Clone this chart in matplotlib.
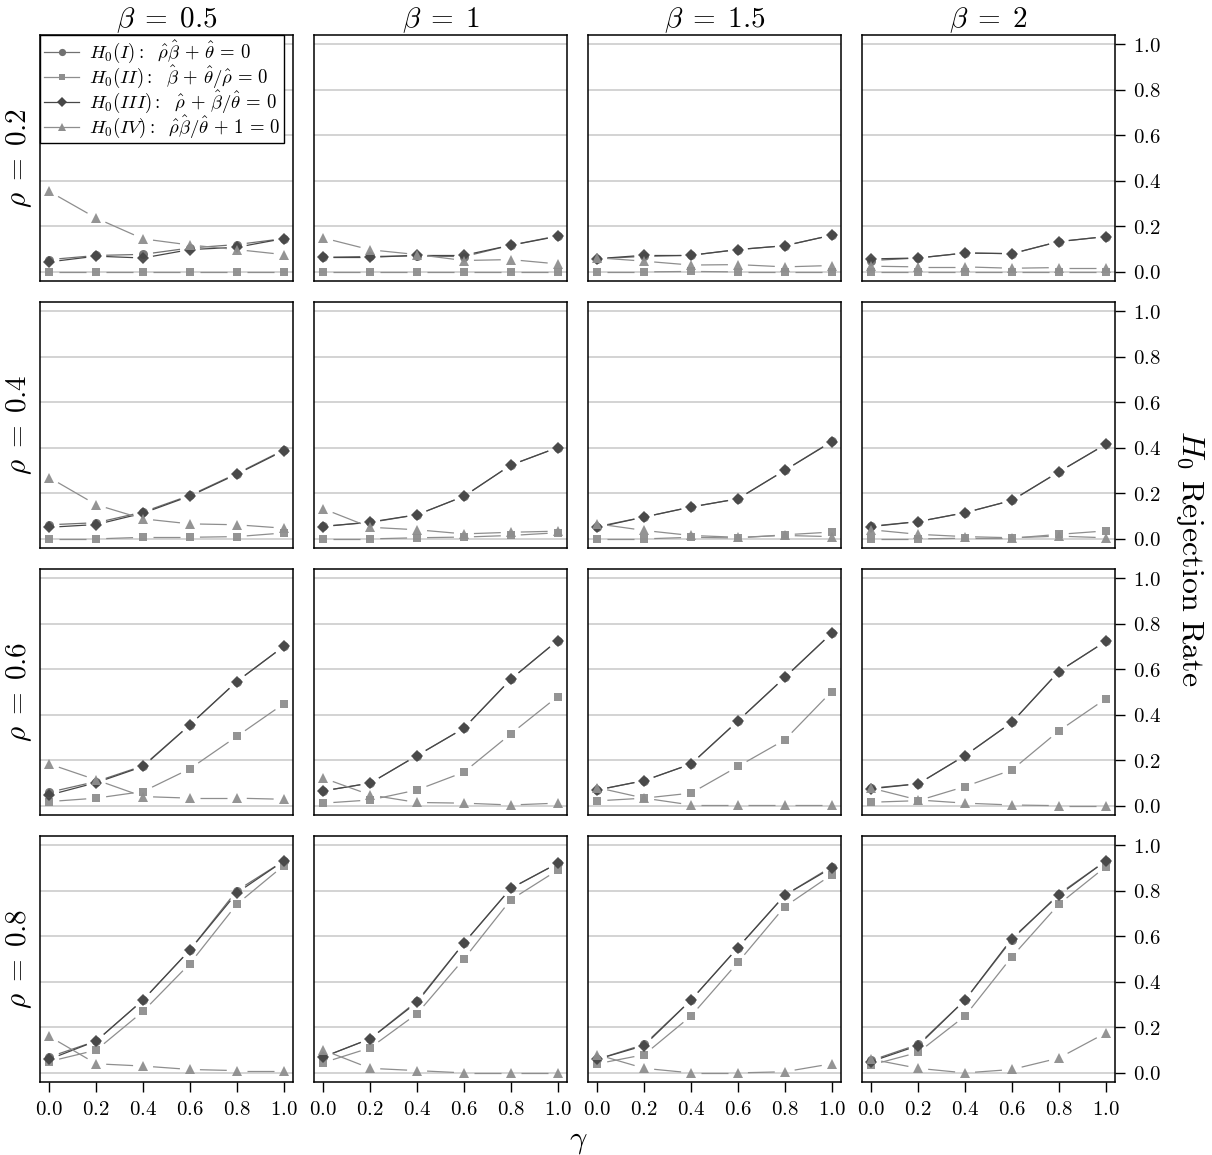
import numpy as np
import matplotlib
matplotlib.use("Agg")
import matplotlib.pyplot as plt
from matplotlib.lines import Line2D

plt.rcParams["mathtext.fontset"] = "cm"
plt.rcParams["font.family"] = ["DejaVu Serif"]

gamma = [0.0, 0.2, 0.4, 0.6, 0.8, 1.0]
beta_labels = ["0.5", "1", "1.5", "2"]
rho_labels = ["0.2", "0.4", "0.6", "0.8"]
y_ticks = [0.0, 0.2, 0.4, 0.6, 0.8, 1.0]

# Rejection rates, indexed [rho][beta][gamma]
rate_I = [
    [[0.054, 0.072, 0.077, 0.105, 0.120, 0.146],
     [0.064, 0.068, 0.070, 0.067, 0.117, 0.158],
     [0.058, 0.068, 0.073, 0.098, 0.115, 0.161],
     [0.050, 0.061, 0.083, 0.080, 0.133, 0.155]],
    [[0.062, 0.071, 0.118, 0.191, 0.287, 0.390],
     [0.056, 0.072, 0.106, 0.187, 0.324, 0.401],
     [0.054, 0.096, 0.140, 0.176, 0.301, 0.428],
     [0.056, 0.076, 0.115, 0.169, 0.294, 0.415]],
    [[0.060, 0.107, 0.176, 0.356, 0.546, 0.700],
     [0.066, 0.100, 0.221, 0.341, 0.556, 0.726],
     [0.070, 0.111, 0.184, 0.373, 0.564, 0.758],
     [0.078, 0.097, 0.221, 0.367, 0.590, 0.722]],
    [[0.070, 0.140, 0.320, 0.540, 0.800, 0.930],
     [0.070, 0.150, 0.315, 0.570, 0.810, 0.920],
     [0.060, 0.125, 0.320, 0.550, 0.780, 0.905],
     [0.055, 0.125, 0.320, 0.585, 0.785, 0.930]],
]
rate_II = [
    [[0.000, 0.000, 0.000, 0.000, 0.000, 0.000],
     [0.000, 0.000, 0.000, 0.000, 0.000, 0.000],
     [0.000, 0.000, 0.002, 0.000, 0.000, 0.000],
     [0.000, 0.000, 0.000, 0.000, 0.000, 0.000]],
    [[0.000, 0.000, 0.007, 0.007, 0.010, 0.026],
     [0.000, 0.000, 0.005, 0.008, 0.015, 0.027],
     [0.000, 0.000, 0.007, 0.004, 0.018, 0.030],
     [0.000, 0.000, 0.003, 0.003, 0.020, 0.035]],
    [[0.019, 0.034, 0.063, 0.163, 0.305, 0.448],
     [0.012, 0.026, 0.070, 0.148, 0.316, 0.480],
     [0.022, 0.034, 0.056, 0.173, 0.290, 0.502],
     [0.016, 0.023, 0.085, 0.158, 0.329, 0.470]],
    [[0.050, 0.100, 0.270, 0.480, 0.740, 0.910],
     [0.045, 0.110, 0.260, 0.500, 0.760, 0.890],
     [0.040, 0.080, 0.250, 0.485, 0.730, 0.870],
     [0.035, 0.090, 0.250, 0.510, 0.740, 0.905]],
]
rate_III = [
    [[0.044, 0.069, 0.061, 0.098, 0.108, 0.146],
     [0.064, 0.064, 0.073, 0.073, 0.117, 0.156],
     [0.058, 0.073, 0.073, 0.098, 0.115, 0.161],
     [0.057, 0.061, 0.083, 0.080, 0.133, 0.155]],
    [[0.051, 0.063, 0.113, 0.188, 0.284, 0.387],
     [0.054, 0.074, 0.106, 0.187, 0.324, 0.401],
     [0.051, 0.096, 0.140, 0.176, 0.301, 0.426],
     [0.054, 0.076, 0.115, 0.169, 0.294, 0.415]],
    [[0.048, 0.102, 0.173, 0.356, 0.546, 0.700],
     [0.066, 0.100, 0.221, 0.341, 0.556, 0.726],
     [0.070, 0.111, 0.184, 0.373, 0.564, 0.758],
     [0.075, 0.097, 0.221, 0.367, 0.590, 0.722]],
    [[0.060, 0.140, 0.320, 0.540, 0.790, 0.930],
     [0.070, 0.150, 0.310, 0.570, 0.810, 0.920],
     [0.060, 0.120, 0.320, 0.550, 0.780, 0.900],
     [0.050, 0.120, 0.320, 0.590, 0.780, 0.930]],
]
rate_IV = [
    [[0.353, 0.236, 0.145, 0.118, 0.098, 0.076],
     [0.149, 0.097, 0.076, 0.050, 0.054, 0.035],
     [0.062, 0.047, 0.030, 0.032, 0.022, 0.028],
     [0.025, 0.022, 0.022, 0.016, 0.019, 0.019]],
    [[0.269, 0.150, 0.088, 0.066, 0.062, 0.047],
     [0.132, 0.051, 0.040, 0.022, 0.029, 0.034],
     [0.066, 0.037, 0.015, 0.007, 0.015, 0.010],
     [0.040, 0.020, 0.010, 0.005, 0.012, 0.005]],
    [[0.184, 0.114, 0.041, 0.034, 0.034, 0.029],
     [0.122, 0.048, 0.015, 0.012, 0.004, 0.012],
     [0.080, 0.034, 0.004, 0.004, 0.004, 0.004],
     [0.078, 0.026, 0.012, 0.004, 0.001, 0.001]],
    [[0.160, 0.040, 0.030, 0.015, 0.010, 0.010],
     [0.100, 0.020, 0.010, 0.000, 0.000, 0.000],
     [0.080, 0.020, 0.000, 0.000, 0.005, 0.040],
     [0.060, 0.020, 0.000, 0.015, 0.065, 0.175]],
]

series = [
    (rate_I, "o", 6.5, "#707070",
     r"$H_0(I):\ \ \hat{\rho}\hat{\beta}\,+\,\hat{\theta}\,=\,0$"),
    (rate_II, "s", 5.6, "#8e8e8e",
     r"$H_0(II):\ \ \hat{\beta}\,+\,\hat{\theta}/\hat{\rho}\,=\,0$"),
    (rate_III, "D", 6.0, "#474747",
     r"$H_0(III):\ \ \hat{\rho}\,+\,\hat{\beta}/\hat{\theta}\,=\,0$"),
    (rate_IV, "^", 7.8, "#8e8e8e",
     r"$H_0(IV):\ \ \hat{\rho}\hat{\beta}/\hat{\theta}\,+\,1\,=\,0$"),
]

W, H = 1212, 1155
fig = plt.figure(figsize=(W / 100, H / 100), dpi=100)

col_left = [40, 314, 588, 862]
row_top = [35, 302, 569, 836]
pw, ph = 253, 246


def gapped_line(ax, x, y, color, lw, gap):
    """Connect points with segments that stop short of each marker."""
    pts = ax.transData.transform(np.column_stack([x, y]))
    inv = ax.transData.inverted()
    for p0, p1 in zip(pts[:-1], pts[1:]):
        d = p1 - p0
        L = np.hypot(d[0], d[1])
        if L <= 2 * gap + 1:
            continue
        u = d / L
        a = inv.transform(p0 + u * gap)
        b = inv.transform(p1 - u * gap)
        ax.plot([a[0], b[0]], [a[1], b[1]], color=color, lw=lw,
                solid_capstyle="butt", zorder=3)


tick_fmt = lambda v, pos: f"${v:.1f}$"

for r in range(4):
    for c in range(4):
        ax = fig.add_axes([col_left[c] / W, 1 - (row_top[r] + ph) / H, pw / W, ph / H])
        ax.set_xlim(-0.04, 1.04)
        ax.set_ylim(-0.04, 1.04)
        for yv in y_ticks:
            ax.axhline(yv, color="#c8c8c8", lw=1.1, zorder=1)
        for data, mk, ms, col, lab in series:
            yv = data[r][c]
            gapped_line(ax, gamma, yv, col, 0.9, 10.0)
            ax.plot(gamma, yv, ls="none", marker=mk, ms=ms, color=col,
                    markeredgewidth=0, alpha=0.95, zorder=4)
        for s in ax.spines.values():
            s.set_linewidth(1.1)
            s.set_color("black")
        ax.tick_params(left=False, labelleft=False, right=(c == 3), labelright=(c == 3),
                       bottom=(r == 3), labelbottom=(r == 3), top=False,
                       direction="out", length=7, width=1.0, labelsize=15, pad=6)
        ax.set_yticks(y_ticks)
        ax.set_xticks(gamma)
        ax.yaxis.set_major_formatter(plt.FuncFormatter(tick_fmt))
        ax.xaxis.set_major_formatter(plt.FuncFormatter(tick_fmt))
        if r == 0:
            ax.set_title(rf"$\beta\;=\;{beta_labels[c]}$", fontsize=21, pad=4)
        if c == 0:
            ax.set_ylabel(rf"$\rho\;=\;{rho_labels[r]}$", fontsize=21, labelpad=4)
        if r == 0 and c == 0:
            handles = [Line2D([], [], color=col, marker=mk, ms=ms * 0.8, lw=0.9,
                              markeredgewidth=0)
                       for _, mk, ms, col, _ in series]
            labels = [lab for *_, lab in series]
            leg = ax.legend(handles, labels, loc="upper left", borderaxespad=0,
                            fancybox=False, framealpha=1, edgecolor="black",
                            fontsize=13.5, handlelength=1.9, handletextpad=0.5,
                            handleheight=0.5, labelspacing=-0.1, borderpad=0.2)
            leg.get_frame().set_linewidth(1.0)
            leg.set_zorder(10)

fig.text(578 / W, 1 - 1140 / H, r"$\gamma$", ha="center", va="center", fontsize=22)
fig.text(1190 / W, 1 - 558 / H, r"$H_0\ \mathrm{Rejection\ Rate}$", ha="center",
         va="center", rotation=-90, fontsize=23)

fig.savefig("out.png", dpi=100)
